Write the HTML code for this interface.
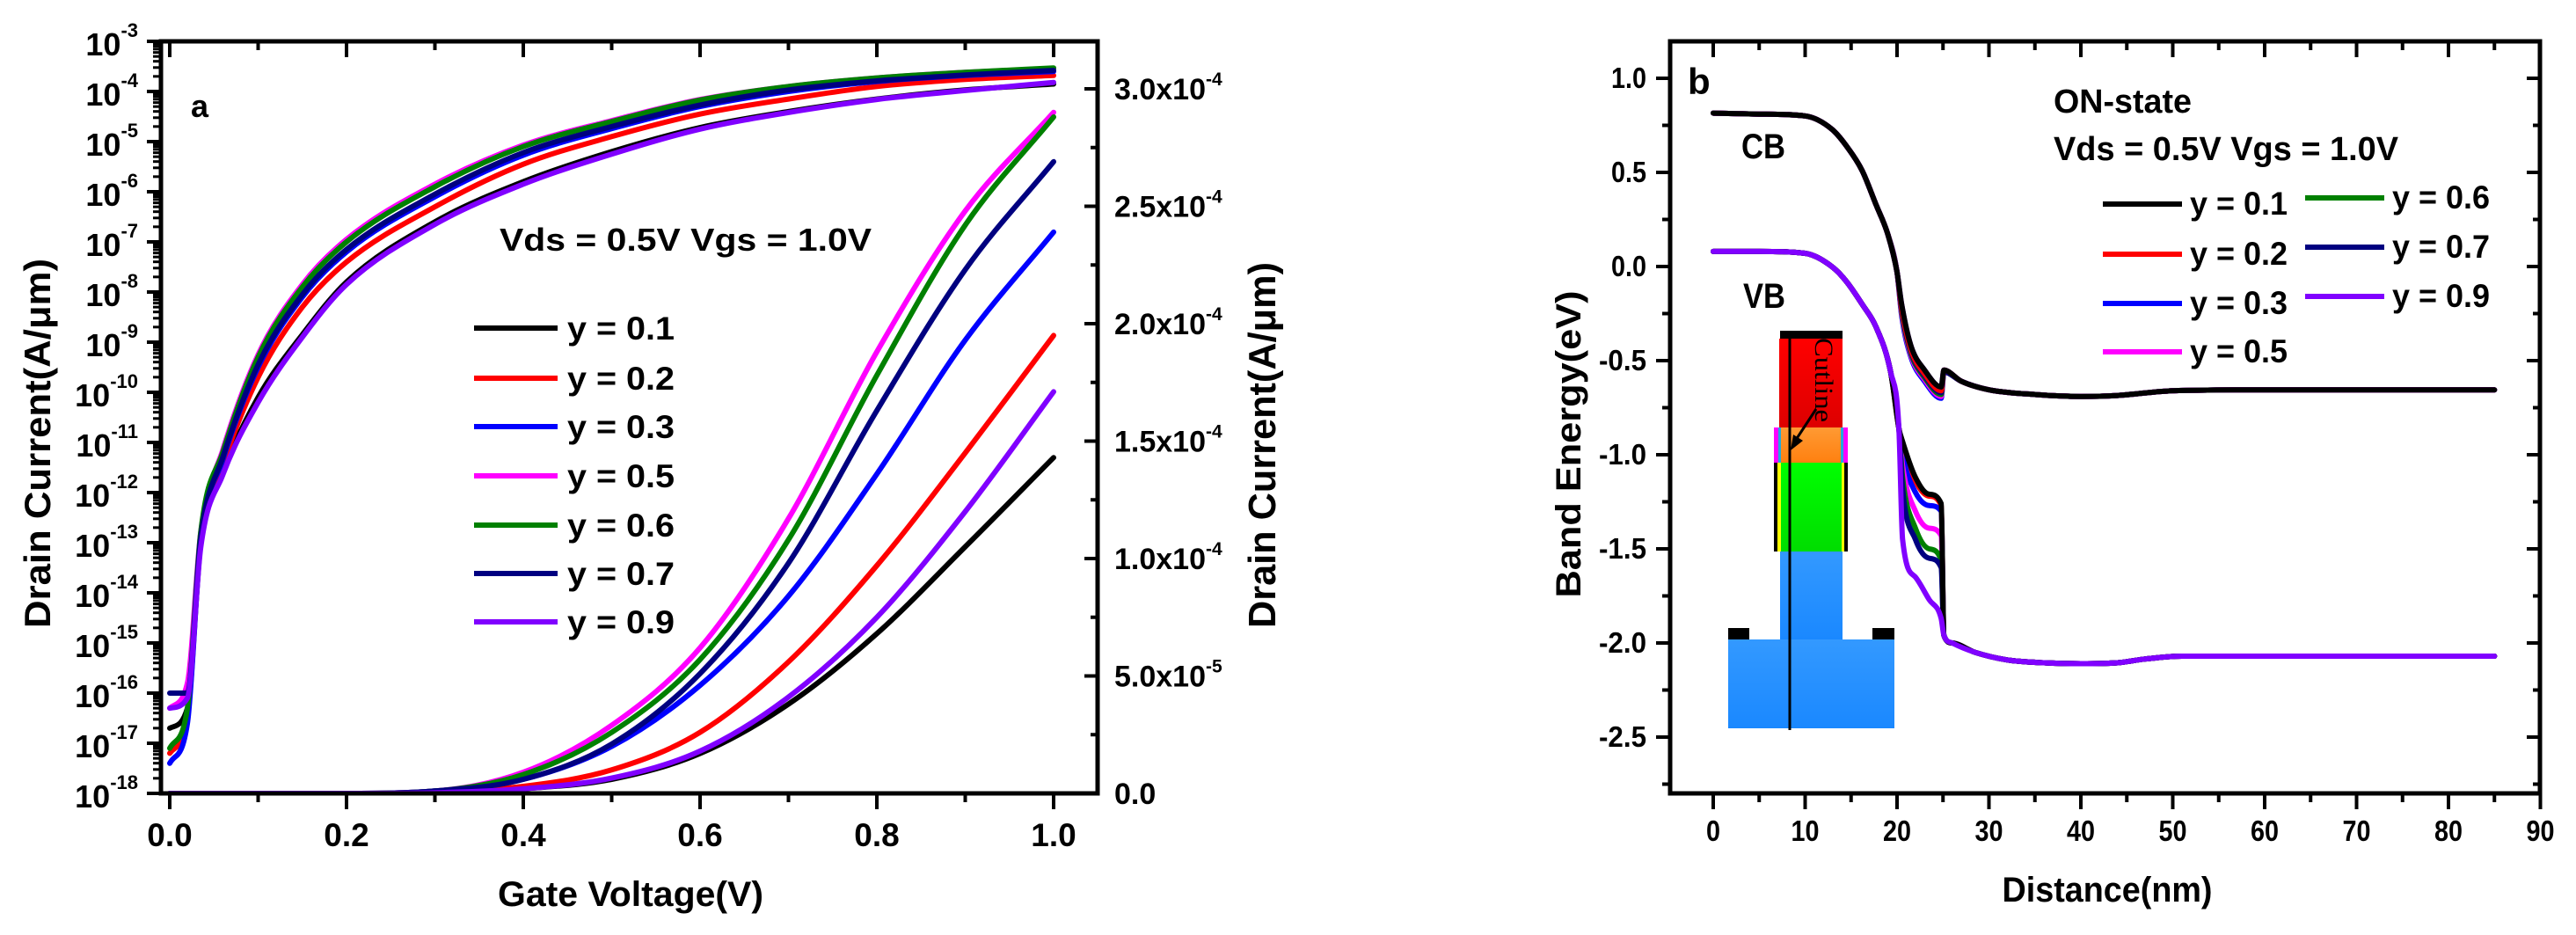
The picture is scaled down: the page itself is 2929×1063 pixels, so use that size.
<!DOCTYPE html>
<html><head><meta charset="utf-8"><style>
html,body{margin:0;padding:0;background:#fff;}
svg{display:block;font-family:"Liberation Sans",sans-serif;font-weight:bold;}
</style></head><body>
<svg id="fig" width="2929" height="1063" viewBox="0 0 2929 1063" xmlns="http://www.w3.org/2000/svg">
<rect width="2929" height="1063" fill="#fff"/>
<g id="pa"></g>
<g id="pb"></g>
</svg>
<script>
// ---------- Panel a data ----------
const seriesNames = ["y = 0.1","y = 0.2","y = 0.3","y = 0.5","y = 0.6","y = 0.7","y = 0.9"];
const seriesColors = ["#000000","#ff0000","#0000ff","#ff00ff","#008000","#000080","#8000ff"];
const logV = [0,0.02,0.035,0.06,0.1,0.15,0.2,0.3,0.4,0.5,0.6,0.7,0.8,0.9,1.0];
const logI_y01 = [-16.7,-16.3,-13.0,-11.6,-10.1,-8.85,-7.8,-6.6,-5.8,-5.2,-4.72,-4.4,-4.15,-3.97,-3.85];
const logI_y02 = [-17.2,-16.5,-13.0,-11.45,-9.7,-8.3,-7.4,-6.3,-5.45,-4.9,-4.45,-4.15,-3.9,-3.76,-3.68];
const logI_y03 = [-17.4,-16.6,-13.0,-11.35,-9.5,-8.1,-7.2,-6.1,-5.27,-4.74,-4.3,-4.0,-3.8,-3.68,-3.6];
const logI_y05 = [-16.3,-15.8,-12.8,-11.15,-9.25,-7.85,-6.95,-5.85,-5.07,-4.58,-4.16,-3.9,-3.73,-3.62,-3.54];
const logI_y06 = [-17.1,-16.3,-12.8,-11.2,-9.3,-7.9,-7.0,-5.9,-5.1,-4.6,-4.17,-3.9,-3.73,-3.62,-3.53];
const logI_y07 = [-16.0,-16.0,-12.9,-11.3,-9.45,-8.05,-7.15,-6.05,-5.22,-4.7,-4.27,-3.97,-3.79,-3.67,-3.58];
const logI_y09 = [-16.3,-16.1,-13.1,-11.65,-10.2,-8.9,-7.85,-6.65,-5.85,-5.25,-4.75,-4.42,-4.16,-3.98,-3.82];
const linV = [0,0.1,0.2,0.3,0.4,0.5,0.6,0.7,0.8,0.9,1.0];
const linI_y01 = [0,0,0,0.003,0.02,0.06,0.17,0.38,0.68,1.05,1.43];
const linI_y02 = [0,0,0,0.005,0.03,0.1,0.26,0.56,0.97,1.45,1.95];
const linI_y03 = [0,0,0,0.01,0.06,0.2,0.46,0.84,1.36,1.93,2.39];
const linI_y05 = [0,0,0,0.01,0.09,0.29,0.62,1.17,1.88,2.48,2.9];
const linI_y06 = [0,0,0,0.01,0.08,0.26,0.57,1.08,1.78,2.42,2.88];
const linI_y07 = [0,0,0,0.01,0.06,0.21,0.51,0.98,1.63,2.23,2.69];
const linI_y09 = [0,0,0,0.003,0.02,0.065,0.18,0.41,0.75,1.2,1.71];
const xTicksA = [0,0.2,0.4,0.6,0.8,1.0];
const xTickLabelsA = ["0.0","0.2","0.4","0.6","0.8","1.0"];
const yDecadesA = [-18,-17,-16,-15,-14,-13,-12,-11,-10,-9,-8,-7,-6,-5,-4,-3];
const yRightTicks = [0,0.5,1.0,1.5,2.0,2.5,3.0];
const yRightLabels = ["0.0","5.0x10","1.0x10","1.5x10","2.0x10","2.5x10","3.0x10"];
const yRightExp = ["","-5","-4","-4","-4","-4","-4"];
// ---------- Panel b data ----------
const cbX = [0,5,10,12.9,14.5,16.2,17.7,19.0,20.0,20.5,21.5,23,24.8,25.1,27,30,35,40,44,50,60,85];
const cb_y01 = [0.815,0.81,0.80,0.73,0.64,0.51,0.33,0.17,-0.03,-0.2,-0.42,-0.55,-0.64,-0.55,-0.61,-0.655,-0.68,-0.69,-0.685,-0.66,-0.655,-0.655];
const cb_y02 = [0.815,0.81,0.80,0.73,0.64,0.51,0.33,0.17,-0.03,-0.22,-0.44,-0.57,-0.66,-0.55,-0.61,-0.655,-0.68,-0.69,-0.685,-0.66,-0.655,-0.655];
const cb_y03 = [0.815,0.81,0.80,0.73,0.64,0.51,0.33,0.17,-0.03,-0.26,-0.48,-0.61,-0.70,-0.56,-0.61,-0.655,-0.68,-0.69,-0.685,-0.66,-0.655,-0.655];
const cb_y05 = [0.815,0.81,0.80,0.73,0.64,0.51,0.33,0.17,-0.03,-0.25,-0.47,-0.60,-0.69,-0.56,-0.61,-0.655,-0.68,-0.69,-0.685,-0.66,-0.655,-0.655];
const cb_y06 = [0.815,0.81,0.80,0.73,0.64,0.51,0.33,0.17,-0.03,-0.24,-0.46,-0.59,-0.68,-0.56,-0.61,-0.655,-0.68,-0.69,-0.685,-0.66,-0.655,-0.655];
const cb_y07 = [0.815,0.81,0.80,0.73,0.64,0.51,0.33,0.17,-0.03,-0.23,-0.45,-0.58,-0.67,-0.56,-0.61,-0.655,-0.68,-0.69,-0.685,-0.66,-0.655,-0.655];
const cb_y09 = [0.815,0.81,0.80,0.73,0.64,0.51,0.33,0.17,-0.03,-0.2,-0.42,-0.55,-0.64,-0.55,-0.61,-0.655,-0.68,-0.69,-0.685,-0.66,-0.655,-0.655];
const vbX = [0,5,10,12.9,14.5,16.2,17.7,19.3,20.2,20.6,22,23.5,24.8,25.1,26,28.5,32,36,40,44,47,51,60,85];
const vb_y01 = [0.08,0.08,0.07,0.0,-0.08,-0.2,-0.32,-0.56,-0.86,-0.93,-1.12,-1.21,-1.26,-1.96,-2.0,-2.05,-2.09,-2.105,-2.11,-2.105,-2.085,-2.07,-2.07,-2.07];
const vb_y02 = [0.08,0.08,0.07,0.0,-0.08,-0.2,-0.32,-0.56,-0.86,-0.95,-1.14,-1.22,-1.27,-1.96,-2.0,-2.05,-2.09,-2.105,-2.11,-2.105,-2.085,-2.07,-2.07,-2.07];
const vb_y03 = [0.08,0.08,0.07,0.0,-0.08,-0.2,-0.32,-0.56,-0.86,-1.0,-1.2,-1.27,-1.30,-1.96,-2.0,-2.05,-2.09,-2.105,-2.11,-2.105,-2.085,-2.07,-2.07,-2.07];
const vb_y05 = [0.08,0.08,0.07,0.0,-0.08,-0.2,-0.32,-0.56,-0.86,-1.06,-1.3,-1.39,-1.43,-1.96,-2.0,-2.05,-2.09,-2.105,-2.11,-2.105,-2.085,-2.07,-2.07,-2.07];
const vb_y06 = [0.08,0.08,0.07,0.0,-0.08,-0.2,-0.32,-0.56,-0.86,-1.12,-1.39,-1.5,-1.56,-1.96,-2.0,-2.05,-2.09,-2.105,-2.11,-2.105,-2.085,-2.07,-2.07,-2.07];
const vb_y07 = [0.08,0.08,0.07,0.0,-0.08,-0.2,-0.32,-0.56,-0.86,-1.18,-1.45,-1.55,-1.60,-1.96,-2.0,-2.05,-2.09,-2.105,-2.11,-2.105,-2.085,-2.07,-2.07,-2.07];
const vb_y09 = [0.08,0.08,0.07,0.0,-0.08,-0.2,-0.32,-0.56,-0.86,-1.45,-1.65,-1.77,-1.87,-1.96,-2.0,-2.05,-2.09,-2.105,-2.11,-2.105,-2.085,-2.07,-2.07,-2.07];
const xTicksB = [0,10,20,30,40,50,60,70,80,90];
const yTicksB = [-2.5,-2.0,-1.5,-1.0,-0.5,0.0,0.5,1.0];
const yTickLabelsB = ["-2.5","-2.0","-1.5","-1.0","-0.5","0.0","0.5","1.0"];

const logSeries = [logI_y01,logI_y02,logI_y03,logI_y05,logI_y06,logI_y07,logI_y09];
const linSeries = [linI_y01,linI_y02,linI_y03,linI_y05,linI_y06,linI_y07,linI_y09];
const cbSeries = [cb_y01,cb_y02,cb_y03,cb_y05,cb_y06,cb_y07,cb_y09];
const vbSeries = [vb_y01,vb_y02,vb_y03,vb_y05,vb_y06,vb_y07,vb_y09];

const NS="http://www.w3.org/2000/svg";
function mk(parent,tag,attrs,txt){const e=document.createElementNS(NS,tag);for(const k in attrs)e.setAttribute(k,attrs[k]);if(txt!==undefined)e.textContent=txt;parent.appendChild(e);return e;}
function monoPath(px,py){
  const n=px.length;if(n<2)return "";
  const d=[],m=[];
  for(let i=0;i<n-1;i++){const dx=px[i+1]-px[i];d.push(dx===0?0:(py[i+1]-py[i])/dx);}
  m[0]=d[0];m[n-1]=d[n-2];
  for(let i=1;i<n-1;i++){m[i]=(d[i-1]*d[i]<=0)?0:(d[i-1]+d[i])/2;}
  for(let i=0;i<n-1;i++){if(d[i]===0){m[i]=0;m[i+1]=0;continue;}const a=m[i]/d[i],b=m[i+1]/d[i];const s=a*a+b*b;if(s>9){const t=3/Math.sqrt(s);m[i]=t*a*d[i];m[i+1]=t*b*d[i];}}
  let p="M"+px[0].toFixed(1)+","+py[0].toFixed(1);
  for(let i=0;i<n-1;i++){const h=px[i+1]-px[i];
    p+=" C"+(px[i]+h/3).toFixed(1)+","+(py[i]+m[i]*h/3).toFixed(1)+" "+(px[i+1]-h/3).toFixed(1)+","+(py[i+1]-m[i+1]*h/3).toFixed(1)+" "+px[i+1].toFixed(1)+","+py[i+1].toFixed(1);}
  return p;
}

// ---------- Panel a ----------
const pa=document.getElementById('pa');
const AL=183,AR=1248,AT=47,AB=902;
const xA=v=>193+v*1005;
const yL=l=>47+(-3-l)*57;
const yR=i=>902-i*267;

const clipA=mk(pa,'clipPath',{id:'clipA'});mk(clipA,'rect',{x:AL,y:AT-3,width:AR-AL,height:AB-AT+3});
const curvesA=mk(pa,'g',{'clip-path':'url(#clipA)'});


for(let s=0;s<7;s++){
  const el=mk(curvesA,'path',{d:monoPath(linV.map(xA),linSeries[s].map(yR)),fill:'none',stroke:seriesColors[s],'stroke-width':6,'stroke-linejoin':'round','stroke-linecap':'round'});
  
  
}
for(let s=0;s<7;s++){
  const el=mk(curvesA,'path',{d:monoPath(logV.map(xA),logSeries[s].map(yL)),fill:'none',stroke:seriesColors[s],'stroke-width':6,'stroke-linejoin':'round','stroke-linecap':'round'});
  
  
}
const frA=mk(pa,'rect',{x:AL,y:AT,width:AR-AL,height:AB-AT,fill:'none',stroke:'#000','stroke-width':5});


for(let k=0;k<=10;k++){const v=k/10,x=xA(v),maj=(k%2===0);
  mk(pa,'line',{x1:x,y1:AB,x2:x,y2:AB+(maj?18:10),stroke:'#000','stroke-width':4});
  mk(pa,'line',{x1:x,y1:AT,x2:x,y2:AT+(maj?18:10),stroke:'#000','stroke-width':4});}
for(let i=0;i<xTicksA.length;i++){
  const t=mk(pa,'text',{x:xA(xTicksA[i]),y:962,'font-size':37,'text-anchor':'middle'},xTickLabelsA[i]);
  
  
}
for(let i=0;i<yDecadesA.length;i++){const dcd=yDecadesA[i],y=yL(dcd);
  mk(pa,'line',{x1:AL-16,y1:y,x2:AL,y2:y,stroke:'#000','stroke-width':4});
  if(dcd<-3){for(let k=2;k<=9;k++){const yy=yL(dcd+Math.log10(k));mk(pa,'line',{x1:AL-9,y1:yy,x2:AL,y2:yy,stroke:'#000','stroke-width':3});}}
  const t=mk(pa,'text',{x:157,y:y+16,'font-size':36,'text-anchor':'end'});
  
  
  mk(t,'tspan',{},"10");
  mk(t,'tspan',{dy:-21,'font-size':22},String(dcd));
}
for(let k=0;k<=12;k++){const y=yR(k*0.25),maj=(k%2===0);mk(pa,'line',{x1:AR-(maj?15:8),y1:y,x2:AR,y2:y,stroke:'#000','stroke-width':4});}
for(let i=0;i<yRightTicks.length;i++){const y=yR(yRightTicks[i]);
  const t=mk(pa,'text',{x:1267,y:y+12,'font-size':34});
  
  
  mk(t,'tspan',{},yRightLabels[i]);
  if(yRightExp[i])mk(t,'tspan',{dy:-16,'font-size':21},yRightExp[i]);
}
let tt;
tt=mk(pa,'text',{x:0,y:0,'font-size':42,'text-anchor':'middle',transform:'translate(57,504) rotate(-90)',textLength:420,lengthAdjust:'spacingAndGlyphs'},"Drain Current(A/μm)");

tt=mk(pa,'text',{x:0,y:0,'font-size':44,'text-anchor':'middle',transform:'translate(1450,506) rotate(-90)',textLength:416,lengthAdjust:'spacingAndGlyphs'},"Drain Current(A/μm)");

tt=mk(pa,'text',{x:717,y:1030,'font-size':40,'text-anchor':'middle',textLength:302,lengthAdjust:'spacingAndGlyphs'},"Gate Voltage(V)");

tt=mk(pa,'text',{x:217,y:133,'font-size':36},"a");

tt=mk(pa,'text',{x:568,y:285,'font-size':36,textLength:423,lengthAdjust:'spacingAndGlyphs'},"Vds = 0.5V Vgs = 1.0V");

const legA=mk(pa,'g',{});

const legRowsA=[373,430,485,541,597,652,707];
for(let s=0;s<7;s++){
  const g=mk(legA,'g',{});
  
  mk(g,'line',{x1:539,y1:legRowsA[s],x2:634,y2:legRowsA[s],stroke:seriesColors[s],'stroke-width':6});
  mk(g,'text',{x:645,y:legRowsA[s]+13,'font-size':37,textLength:122,lengthAdjust:'spacingAndGlyphs'},seriesNames[s]);
}

// ---------- Panel b ----------
const pb=document.getElementById('pb');
const BL=1899,BR=2888,BT=47,BB=902;
const xB=d=>1948+d*10.45;
const yB=e=>303-e*214;
const dev=mk(pb,'g',{});

const defs=mk(pb,'defs',{});
const gr=mk(defs,'linearGradient',{id:'gRed',x1:0,y1:0,x2:0,y2:1});mk(gr,'stop',{offset:0,'stop-color':'#ff0000'});mk(gr,'stop',{offset:1,'stop-color':'#dd0000'});
const go=mk(defs,'linearGradient',{id:'gOr',x1:0,y1:0,x2:0,y2:1});mk(go,'stop',{offset:0,'stop-color':'#ff9a33'});mk(go,'stop',{offset:1,'stop-color':'#ff8010'});
const gg=mk(defs,'linearGradient',{id:'gGr',x1:0,y1:0,x2:0,y2:1});mk(gg,'stop',{offset:0,'stop-color':'#00ff00'});mk(gg,'stop',{offset:1,'stop-color':'#00dd00'});
const gb=mk(defs,'linearGradient',{id:'gBl',x1:0,y1:0,x2:0,y2:1});mk(gb,'stop',{offset:0,'stop-color':'#3399ff'});mk(gb,'stop',{offset:1,'stop-color':'#1a88ff'});
mk(dev,'rect',{x:1965,y:727,width:189,height:101,fill:'url(#gBl)'});
mk(dev,'rect',{x:2024,y:627,width:71,height:100,fill:'url(#gBl)'});
mk(dev,'rect',{x:1965,y:714,width:24,height:13,fill:'#000'});
mk(dev,'rect',{x:2129,y:714,width:25,height:13,fill:'#000'});
mk(dev,'rect',{x:2021,y:526,width:76,height:101,fill:'url(#gGr)'});
mk(dev,'rect',{x:2017,y:526,width:4,height:101,fill:'#000'});
mk(dev,'rect',{x:2097,y:526,width:4,height:101,fill:'#000'});
mk(dev,'rect',{x:2021,y:526,width:4,height:101,fill:'#ffff00'});
mk(dev,'rect',{x:2094,y:526,width:3,height:101,fill:'#ffff00'});
mk(dev,'rect',{x:2017,y:486,width:84,height:40,fill:'url(#gOr)'});
mk(dev,'rect',{x:2017,y:486,width:5,height:40,fill:'#ff00ff'});
mk(dev,'rect',{x:2096,y:486,width:5,height:40,fill:'#ff00ff'});
mk(dev,'rect',{x:2022,y:486,width:3,height:40,fill:'#22aadd'});
mk(dev,'rect',{x:2093,y:486,width:3,height:40,fill:'#22aadd'});
mk(dev,'rect',{x:2023,y:385,width:72,height:101,fill:'url(#gRed)'});
mk(dev,'rect',{x:2024,y:376,width:71,height:9,fill:'#000'});
mk(dev,'line',{x1:2035,y1:380,x2:2035,y2:830,stroke:'#000','stroke-width':3});
mk(dev,'line',{x1:2065,y1:465,x2:2042,y2:500,stroke:'#000','stroke-width':3});
mk(dev,'polygon',{points:'2036,512 2039,494 2050,501',fill:'#000'});
tt=mk(dev,'text',{x:0,y:0,'font-size':30,'font-weight':'normal','font-family':'"Liberation Serif",serif',transform:'translate(2064,384) rotate(90)',textLength:96,lengthAdjust:'spacingAndGlyphs'},"Cutline");


const clipB=mk(pb,'clipPath',{id:'clipB'});mk(clipB,'rect',{x:BL,y:BT,width:BR-BL,height:BB-BT});
const curvesB=mk(pb,'g',{'clip-path':'url(#clipB)'});

const orderB=[1,2,3,4,5,0,6];
for(const s of orderB){
  const el=mk(curvesB,'path',{d:monoPath(vbX.map(xB),vbSeries[s].map(yB)),fill:'none',stroke:seriesColors[s],'stroke-width':6,'stroke-linejoin':'round','stroke-linecap':'round'});
  
  
}
for(const s of [2,3,4,5,1,6,0]){
  const el=mk(curvesB,'path',{d:monoPath(cbX.map(xB),cbSeries[s].map(yB)),fill:'none',stroke:seriesColors[s],'stroke-width':6,'stroke-linejoin':'round','stroke-linecap':'round'});
  
  
}
const frB=mk(pb,'rect',{x:BL,y:BT,width:BR-BL,height:BB-BT,fill:'none',stroke:'#000','stroke-width':5});

for(let k=-1;k<=18;k++){const d=k*5,x=xB(d);if(x<BL||x>BR+1)continue;const maj=(k%2===0);
  mk(pb,'line',{x1:x,y1:BB,x2:x,y2:BB+(maj?18:10),stroke:'#000','stroke-width':4});
  mk(pb,'line',{x1:x,y1:BT,x2:x,y2:BT+(maj?18:10),stroke:'#000','stroke-width':4});}
for(let i=0;i<xTicksB.length;i++){
  const t=mk(pb,'text',{x:xB(xTicksB[i]),y:956,'font-size':33,'text-anchor':'middle'},String(xTicksB[i]));
  
  t.setAttribute('textLength',(String(xTicksB[i]).length*16).toFixed(0));t.setAttribute('lengthAdjust','spacingAndGlyphs');
}
for(let k=-11;k<=4;k++){const e=k*0.25,y=yB(e);if(y<BT||y>BB)continue;const maj=(k%2===0);
  mk(pb,'line',{x1:BL-(maj?16:9),y1:y,x2:BL,y2:y,stroke:'#000','stroke-width':4});
  mk(pb,'line',{x1:BR-(maj?15:8),y1:y,x2:BR,y2:y,stroke:'#000','stroke-width':4});}
for(let i=0;i<yTicksB.length;i++){
  const lab=yTickLabelsB[i];
  const t=mk(pb,'text',{x:1872,y:yB(yTicksB[i])+11,'font-size':33,'text-anchor':'end',textLength:(lab.length===4?54:40),lengthAdjust:'spacingAndGlyphs'},lab);
  
}
tt=mk(pb,'text',{x:0,y:0,'font-size':40,'text-anchor':'middle',transform:'translate(1797,505) rotate(-90)',textLength:349,lengthAdjust:'spacingAndGlyphs'},"Band Energy(eV)");

tt=mk(pb,'text',{x:2396,y:1025,'font-size':40,'text-anchor':'middle',textLength:239,lengthAdjust:'spacingAndGlyphs'},"Distance(nm)");

tt=mk(pb,'text',{x:1919,y:107,'font-size':42},"b");

tt=mk(pb,'text',{x:1980,y:180,'font-size':40,textLength:50,lengthAdjust:'spacingAndGlyphs'},"CB");

tt=mk(pb,'text',{x:1982,y:350,'font-size':40,textLength:48,lengthAdjust:'spacingAndGlyphs'},"VB");

tt=mk(pb,'text',{x:2335,y:128,'font-size':38,textLength:157,lengthAdjust:'spacingAndGlyphs'},"ON-state");

tt=mk(pb,'text',{x:2335,y:182,'font-size':38,textLength:392,lengthAdjust:'spacingAndGlyphs'},"Vds = 0.5V Vgs = 1.0V");

const legB=mk(pb,'g',{});

const legPosB=[[2391,232],[2391,289],[2391,345],[2391,400],[2621,225],[2621,281],[2621,337]];
for(let s=0;s<7;s++){
  const [lx,ly]=legPosB[s];
  const g=mk(legB,'g',{});
  
  mk(g,'line',{x1:lx,y1:ly,x2:lx+90,y2:ly,stroke:seriesColors[s],'stroke-width':6});
  mk(g,'text',{x:lx+99,y:ly+12,'font-size':37,textLength:111,lengthAdjust:'spacingAndGlyphs'},seriesNames[s]);
}
</script>
</body></html>
